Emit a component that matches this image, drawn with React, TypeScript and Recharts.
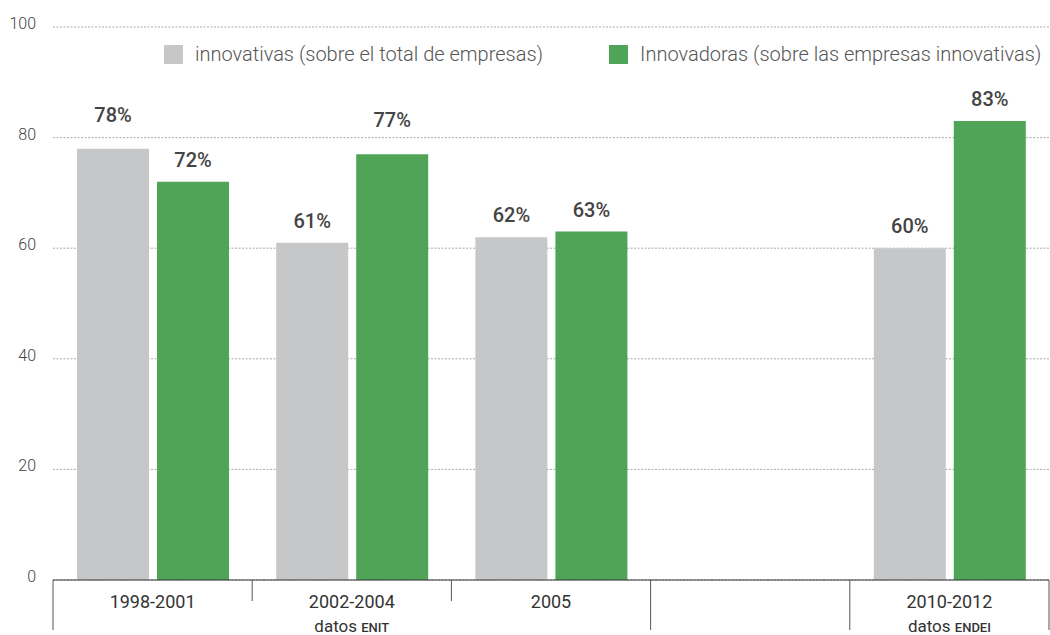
import { BarChart, Bar, XAxis, YAxis, CartesianGrid, LabelList } from 'recharts';

const periodos = ['1998-2001', '2002-2004', '2005', '', '2010-2012'];
const innovativas = [78, 61, 62, null, 60];
const innovadoras = [72, 77, 63, null, 83];
const yTicks = [0, 20, 40, 60, 80, 100];
const fuentes = [
  { nombre: 'ENIT', desde: 0, hasta: 2 },
  { nombre: 'ENDEI', desde: 4, hasta: 4 },
];

const serie1 = 'innovativas (sobre el total de empresas)';
const serie2 = 'Innovadoras (sobre las empresas innovativas)';
const GRIS = '#c6c7c9';
const VERDE = '#4fa457';

const W = 1050;
const H = 635;
const Y_W = 53;
const X_H = 55;
const M_RIGHT = 1;
const FONT = 'Roboto, "DejaVu Sans", sans-serif';

const data = periodos.map((p, i) => ({
  periodo: p,
  innovativas: innovativas[i],
  innovadoras: innovadoras[i],
}));

const band = (W - Y_W - M_RIGHT) / periodos.length;
const axisY = H - X_H;

// separador largo si es borde de grupo de fuente
function esBorde(i: number) {
  if (i === 0 || i === periodos.length) return true;
  return fuentes.some((f) => f.desde === i || f.hasta === i - 1);
}

function TickPeriodo(props: any) {
  const { x, payload } = props;
  const i = periodos.indexOf(payload.value);
  const left = x - band / 2;
  const lineas = [i];
  if (i === periodos.length - 1) lineas.push(i + 1);
  const grupo = fuentes.find((f) => f.desde === i);
  return (
    <g>
      {lineas.map((k) => (
        <line
          key={k}
          x1={left + (k - i) * band}
          x2={left + (k - i) * band}
          y1={axisY}
          y2={esBorde(k) ? axisY + 50 : axisY + 21}
          stroke="#555"
          strokeWidth={1}
        />
      ))}
      <text x={x} y={axisY + 28} textAnchor="middle" fontSize={18} fill="#333" fontFamily={FONT}>
        {payload.value}
      </text>
      {grupo && (
        <text
          x={left + ((grupo.hasta - grupo.desde + 1) * band) / 2}
          y={axisY + 52}
          textAnchor="middle"
          fontSize={17}
          fill="#333"
          fontFamily={FONT}
        >
          datos <tspan fontSize={13} fontWeight={500}>{grupo.nombre}</tspan>
        </text>
      )}
    </g>
  );
}

function TickY(props: any) {
  const { y, payload } = props;
  return (
    <text x={36} y={y + 2} textAnchor="end" fontSize={16} fill="#444" fontFamily={FONT} fontWeight={300}>
      {payload.value}
    </text>
  );
}

function Etiqueta(props: any) {
  const { x, y, width, value } = props;
  if (value == null) return null;
  // las que chocan con la linea de 80 se suben un poco
  const extra = value >= 75 && value < 80 ? 12 : 0;
  return (
    <text
      x={x + width / 2}
      y={y - 15 - extra}
      textAnchor="middle"
      fontSize={20}
      fontWeight={500}
      fill="#444"
      fontFamily={FONT}
    >
      {value}%
    </text>
  );
}

function Leyenda() {
  const items = [
    { nombre: serie1, color: GRIS },
    { nombre: serie2, color: VERDE },
  ];
  return (
    <div
      style={{
        position: 'absolute',
        top: 42,
        left: 164,
        display: 'flex',
        alignItems: 'center',
        fontFamily: FONT,
        fontSize: 20,
        fontWeight: 300,
        color: '#555',
        whiteSpace: 'nowrap',
      }}
    >
      {items.map((it, i) => (
        <div key={it.nombre} style={{ display: 'flex', alignItems: 'center', marginLeft: i ? 66 : 0 }}>
          <span style={{ width: 19, height: 19, background: it.color, display: 'inline-block', marginRight: 12 }} />
          <span>{it.nombre}</span>
        </div>
      ))}
    </div>
  );
}

export default function App() {
  return (
    <div style={{ position: 'absolute', left: 0, top: 0, width: W, height: H, background: '#fff' }}>
      <BarChart
        width={W}
        height={H}
        data={data}
        margin={{ top: 27, right: M_RIGHT, left: 0, bottom: 0 }}
        barSize={72}
        barGap={8}
      >
        <CartesianGrid vertical={false} stroke="#aaa" strokeDasharray="2 1.5" />
        <XAxis
          dataKey="periodo"
          height={X_H}
          interval={0}
          tickLine={false}
          axisLine={{ stroke: '#333' }}
          tick={<TickPeriodo />}
        />
        <YAxis
          width={Y_W}
          domain={[0, 100]}
          ticks={yTicks}
          axisLine={false}
          tickLine={false}
          tick={<TickY />}
        />
        <Bar dataKey="innovativas" name={serie1} fill={GRIS} isAnimationActive={false}>
          <LabelList dataKey="innovativas" content={<Etiqueta />} />
        </Bar>
        <Bar dataKey="innovadoras" name={serie2} fill={VERDE} isAnimationActive={false}>
          <LabelList dataKey="innovadoras" content={<Etiqueta />} />
        </Bar>
      </BarChart>
      <Leyenda />
    </div>
  );
}
